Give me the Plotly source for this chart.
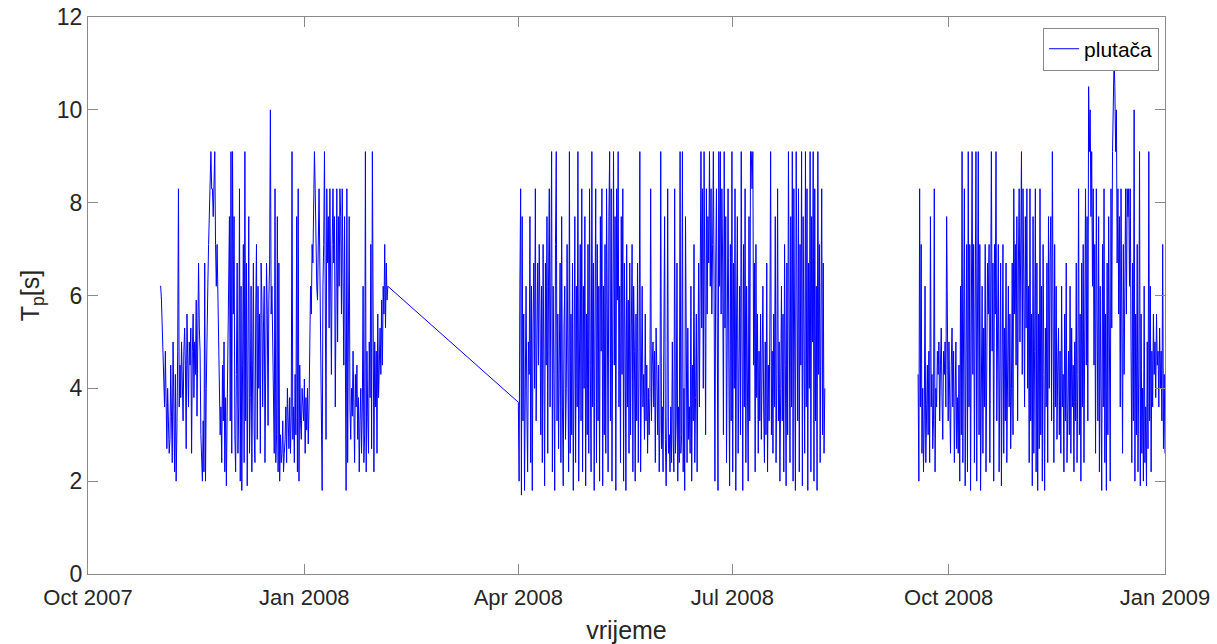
import numpy as np
import pandas as pd
import plotly.graph_objects as go

# ---- data (Tp in seconds) ----
seg1_start, seg1_end = "2007-10-31 14:00", "2008-02-05 12:00"
seg1_tp = [
    6.2, 6.2, 5.9, 5.3, 4.8, 4.5, 3.6, 4.8, 3.2, 2.7, 4.0, 3.3, 2.6,
    2.9, 4.5, 3.4, 2.4, 5.0, 3.7, 2.2, 4.3, 2.0, 3.1, 4.8, 8.3, 3.6,
    4.5, 3.8, 5.0, 4.3, 3.3, 4.8, 5.3, 4.5, 2.7, 5.6, 4.8, 3.6, 5.0,
    4.5, 5.3, 2.6, 4.8, 5.6, 3.8, 5.0, 4.3, 5.9, 3.4, 5.6, 6.7, 5.3,
    4.8, 3.0, 2.4, 2.0, 3.3, 2.2, 6.7, 2.0, 4.0, 5.6, 6.2, 7.1, 7.7,
    8.3, 9.1, 8.3, 8.3, 7.7, 8.3, 9.1, 7.1, 6.2, 7.1, 5.9, 4.3, 3.6,
    3.0, 3.6, 2.4, 4.5, 3.3, 5.0, 2.2, 3.8, 1.9, 3.4, 4.8, 6.2, 7.7,
    3.3, 9.1, 2.6, 9.1, 5.6, 7.7, 3.0, 2.2, 4.3, 6.7, 2.6, 3.6, 8.3,
    2.0, 6.2, 1.8, 4.5, 7.1, 2.4, 9.1, 3.3, 6.7, 1.9, 5.3, 7.7, 2.6,
    3.8, 6.2, 2.2, 4.5, 6.7, 3.1, 2.4, 5.6, 7.1, 2.9, 6.2, 4.0, 5.6,
    2.6, 6.7, 5.9, 3.6, 5.3, 6.2, 2.4, 4.8, 6.7, 5.6, 3.2, 5.9, 6.7,
    10.0, 5.6, 6.2, 4.8, 3.3, 2.6, 8.3, 2.4, 3.0, 7.7, 2.2, 6.7, 2.0,
    3.0, 2.4, 2.6, 3.3, 2.2, 2.6, 2.9, 3.6, 2.4, 4.0, 3.3, 2.7, 3.8,
    2.6, 3.4, 9.1, 2.9, 3.6, 2.4, 4.3, 3.0, 7.7, 2.2, 8.3, 2.0, 4.5,
    3.3, 2.9, 4.0, 3.6, 3.3, 4.2, 2.6, 3.8, 3.1, 4.0, 2.8, 3.6, 5.0,
    6.2, 5.6, 7.1, 6.7, 7.7, 9.1, 8.3, 7.1, 6.2, 5.9, 7.7, 8.3, 6.7,
    5.0, 2.6, 1.8, 6.2, 7.1, 9.1, 4.5, 2.9, 8.3, 6.7, 7.7, 5.3, 8.3,
    6.2, 4.3, 7.1, 8.3, 6.7, 7.7, 3.6, 7.1, 8.3, 5.0, 7.7, 6.2, 8.3,
    7.7, 5.6, 8.3, 6.2, 4.5, 7.7, 3.3, 1.8, 8.3, 2.4, 5.3, 7.7, 3.6,
    2.9, 4.0, 3.4, 4.8, 3.0, 2.4, 4.3, 3.6, 4.5, 2.9, 3.8, 2.2, 3.3,
    4.0, 2.6, 3.6, 6.2, 2.4, 3.0, 9.1, 2.2, 4.8, 3.4, 2.6, 5.0, 3.8,
    7.1, 2.7, 9.1, 4.3, 2.2, 5.0, 3.6, 4.8, 2.6, 5.6, 3.8, 4.5, 5.3,
    4.3, 5.9, 4.5, 6.2, 5.6, 7.1, 5.3, 6.7, 5.9, 6.2,
]

seg2_start, seg2_end = "2008-04-01 00:00", "2008-08-09 08:00"
seg2_tp = [
    3.7, 2.0, 6.2, 8.3, 1.7, 7.7, 3.3, 5.6, 1.8, 4.8, 6.2, 3.6, 2.2, 5.0,
    4.3, 7.7, 2.4, 6.2, 1.8, 5.3, 6.7, 4.0, 8.3, 3.3, 5.9, 6.7, 4.5,
    7.1, 5.6, 3.0, 6.2, 2.4, 7.1, 5.3, 1.9, 6.7, 4.5, 7.7, 2.6, 6.2,
    8.3, 3.6, 5.9, 9.1, 2.2, 6.2, 4.3, 1.8, 7.1, 9.1, 3.3, 5.6, 2.7,
    4.8, 6.7, 2.4, 7.7, 3.6, 1.9, 5.3, 6.2, 2.9, 4.0, 7.1, 3.3, 2.2,
    9.1, 2.6, 5.6, 3.0, 6.7, 1.8, 4.5, 7.7, 2.4, 6.2, 3.6, 9.1, 2.0,
    5.0, 7.1, 3.3, 8.3, 2.2, 6.2, 4.0, 7.7, 1.9, 5.6, 3.0, 7.1, 2.6,
    8.3, 4.5, 2.2, 9.1, 3.6, 6.7, 1.8, 5.3, 8.3, 2.4, 7.1, 3.3, 6.2,
    2.0, 7.7, 4.8, 8.3, 1.9, 6.2, 3.0, 7.1, 2.6, 8.3, 5.6, 2.2, 7.7,
    9.1, 3.3, 8.3, 2.0, 6.7, 9.1, 4.5, 7.7, 1.8, 8.3, 5.9, 9.1, 3.6,
    6.2, 2.4, 7.7, 4.3, 8.3, 2.0, 6.7, 5.0, 1.8, 7.1, 3.6, 5.9, 2.6,
    6.7, 3.0, 5.3, 7.1, 2.2, 6.2, 4.8, 2.0, 5.6, 3.3, 6.7, 2.4, 4.5,
    9.1, 2.2, 5.0, 6.2, 3.6, 4.3, 2.9, 5.6, 3.3, 4.5, 2.6, 4.0, 3.0,
    3.8, 8.3, 3.3, 4.5, 5.0, 3.6, 4.8, 2.4, 5.3, 4.3, 3.0, 4.5, 2.2,
    3.3, 9.1, 2.7, 3.6, 2.2, 4.3, 7.7, 2.9, 1.9, 3.4, 8.3, 2.6, 3.0,
    2.2, 3.6, 2.4, 5.0, 3.0, 2.2, 8.3, 2.6, 3.3, 6.7, 2.0, 3.6, 2.4,
    9.1, 2.6, 3.0, 9.1, 2.2, 4.0, 1.8, 7.7, 3.3, 2.4, 5.3, 2.9, 3.6,
    2.6, 6.2, 2.0, 4.5, 3.3, 7.1, 2.4, 3.8, 5.6, 2.2, 4.3, 6.7, 3.6,
    7.1, 9.1, 5.3, 8.3, 4.0, 9.1, 6.2, 3.0, 8.3, 5.6, 7.7, 6.7, 9.1,
    6.2, 8.3, 5.6, 7.1, 9.1, 5.9, 2.0, 6.7, 8.3, 5.3, 1.8, 9.1, 6.2,
    9.1, 5.6, 8.3, 6.7, 3.0, 9.1, 5.3, 7.7, 2.4, 6.2, 8.3, 4.5, 1.9,
    7.1, 3.3, 9.1, 2.2, 6.7, 4.0, 8.3, 1.8, 5.6, 7.7, 2.6, 4.5, 6.2,
    3.0, 9.1, 5.0, 1.8, 7.1, 3.6, 8.3, 2.4, 6.2, 4.3, 2.0, 7.7, 3.3,
    9.1, 9.1, 8.3, 9.1, 4.5, 6.7, 2.2, 7.1, 3.8, 5.6, 2.6, 4.8, 3.3,
    5.6, 2.9, 4.3, 6.2, 3.6, 2.4, 5.0, 3.0, 6.7, 2.2, 4.5, 3.3, 5.3,
    9.1, 3.0, 4.8, 2.6, 5.6, 3.6, 7.7, 2.4, 4.3, 8.3, 3.3, 5.0, 2.0,
    4.0, 6.2, 3.3, 5.6, 2.2, 7.1, 4.5, 1.9, 6.7, 3.0, 9.1, 4.8, 2.4,
    7.7, 3.6, 9.1, 2.0, 8.3, 5.3, 1.8, 9.1, 6.2, 3.3, 8.3, 2.2, 7.1,
    4.5, 9.1, 1.9, 7.7, 5.6, 2.6, 9.1, 3.6, 8.3, 1.8, 6.7, 4.0, 9.1,
    2.2, 7.7, 5.0, 9.1, 2.0, 8.3, 3.3, 6.2, 1.8, 9.1, 4.3, 7.1, 2.4,
    5.6, 8.3, 3.0, 6.7, 2.6, 4.0,
]

seg3_start, seg3_end = "2008-09-18 00:00", "2009-01-01 00:00"
seg3_tp = [
    4.3, 2.0, 8.3, 3.6, 7.1, 2.6, 4.0, 2.2, 3.3, 6.2, 2.4, 3.8, 4.5,
    3.0, 4.8, 2.4, 7.7, 3.6, 4.3, 2.7, 3.3, 8.3, 2.2, 4.0, 3.6, 4.8,
    4.3, 5.0, 3.3, 4.5, 5.3, 3.8, 2.9, 4.8, 4.3, 5.0, 3.6, 7.7, 4.5,
    3.3, 5.0, 4.0, 2.6, 4.5, 5.3, 3.6, 4.8, 2.4, 4.3, 5.0, 2.7, 3.8,
    2.6, 4.5, 2.0, 6.2, 3.0, 9.1, 2.4, 5.6, 8.3, 1.9, 4.8, 7.1, 2.2,
    9.1, 3.6, 7.1, 1.8, 6.2, 9.1, 4.3, 7.1, 2.4, 5.6, 9.1, 2.0, 6.7,
    9.1, 3.0, 7.1, 1.8, 4.8, 6.2, 2.6, 5.3, 3.6, 7.1, 2.2, 4.5, 6.7,
    5.6, 7.1, 2.4, 6.2, 9.1, 4.8, 6.7, 2.0, 7.1, 5.6, 9.1, 3.3, 6.2,
    7.1, 2.2, 5.9, 6.7, 1.9, 4.5, 7.1, 2.6, 5.3, 3.3, 6.7, 2.4, 4.3,
    6.2, 3.6, 5.6, 2.7, 4.0, 6.7, 3.0, 8.3, 5.6, 7.1, 4.5, 7.7, 3.3,
    6.7, 8.3, 5.0, 7.1, 9.1, 4.3, 8.3, 6.2, 3.6, 7.7, 5.3, 8.3, 4.0,
    6.2, 2.4, 8.3, 3.3, 5.6, 1.9, 7.7, 2.6, 4.8, 8.3, 2.2, 6.7, 1.8,
    5.6, 2.7, 8.3, 3.0, 6.2, 2.0, 7.1, 4.3, 1.8, 5.3, 3.6, 6.7, 2.4,
    7.7, 4.0, 6.7, 7.7, 3.3, 9.1, 5.6, 2.4, 7.1, 3.6, 6.2, 2.9, 4.5,
    5.3, 3.0, 4.8, 2.6, 6.2, 3.6, 4.3, 2.2, 5.6, 3.3, 6.7, 2.4, 4.0,
    4.8, 3.0, 6.2, 2.6, 5.3, 3.6, 4.5, 2.2, 5.0, 3.3, 6.7, 2.4, 4.3,
    8.3, 3.0, 5.6, 2.0, 6.7, 3.6, 7.1, 2.4, 5.3, 8.3, 4.5, 7.7, 3.3,
    10.5, 9.1, 10.0, 7.7, 9.1, 6.2, 8.3, 4.5, 7.1, 2.6, 8.3, 5.6, 3.3,
    7.7, 2.2, 6.2, 4.3, 1.8, 7.1, 3.6, 8.3, 2.4, 5.6, 1.8, 6.7, 3.0,
    7.7, 4.5, 2.0, 8.3, 5.3, 9.1, 10.0, 11.1, 10.5, 9.1, 10.0, 6.7, 8.3,
    5.6, 7.7, 3.6, 8.3, 5.0, 2.6, 7.1, 4.3, 6.2, 8.3, 5.6, 8.3, 7.7,
    8.3, 6.2, 8.3, 4.8, 2.4, 6.7, 3.3, 10.0, 2.0, 5.6, 3.0, 7.1, 2.2,
    4.5, 9.1, 1.9, 5.6, 2.6, 4.0, 2.0, 6.2, 2.4, 3.6, 1.9, 5.0, 2.7,
    9.1, 3.3, 6.2, 2.2, 4.8, 3.6, 5.6, 4.3, 5.0, 3.8, 5.6, 4.5, 4.8,
    3.6, 5.3, 4.0, 4.8, 3.3, 7.1, 2.7, 4.3, 2.6,
]

x_tick_vals = ["2007-10-01", "2008-01-01", "2008-04-01", "2008-07-01", "2008-10-01", "2009-01-01"]
x_tick_text = ["Oct 2007", "Jan 2008", "Apr 2008", "Jul 2008", "Oct 2008", "Jan 2009"]
y_tick_vals = [0, 2, 4, 6, 8, 10, 12]

# ---- build series (gap after segment 2 is a break; gap after segment 1 is joined) ----
t1 = pd.date_range(seg1_start, seg1_end, periods=len(seg1_tp))
t2 = pd.date_range(seg2_start, seg2_end, periods=len(seg2_tp))
t3 = pd.date_range(seg3_start, seg3_end, periods=len(seg3_tp))

x = list(t1) + list(t2) + [t2[-1] + pd.Timedelta(hours=1)] + list(t3)
y = list(seg1_tp) + list(seg2_tp) + [None] + list(seg3_tp)

fig = go.Figure()
fig.add_trace(go.Scatter(
    x=x, y=y, mode="lines", name="plutača",
    line=dict(color="#0000ff", width=1),
    connectgaps=False,
))

font_family = "Liberation Sans, Arial, sans-serif"
axis_color = "#8a8a8a"
text_color = "#262626"

fig.update_layout(
    width=1217, height=644,
    margin=dict(l=88, r=52, t=17, b=70),
    paper_bgcolor="white", plot_bgcolor="white",
    font=dict(family=font_family, size=22, color=text_color),
    showlegend=True,
    legend=dict(
        x=0.9945, y=0.981, xanchor="right", yanchor="top",
        bgcolor="white", bordercolor=axis_color, borderwidth=1,
        font=dict(size=21, color="#000000"),
        itemwidth=30, tracegroupgap=0,
    ),
    xaxis=dict(
        range=["2007-10-01", "2009-01-01"],
        automargin=False,
        tickvals=x_tick_vals, ticktext=x_tick_text,
        ticks="inside", ticklen=10, tickcolor=axis_color, tickwidth=1,
        showline=True, linecolor=axis_color, linewidth=1, mirror="ticks",
        showgrid=False, zeroline=False,
        tickfont=dict(size=22, color=text_color),
        ticklabelstandoff=4,
        title=dict(text="vrijeme", font=dict(size=25, color=text_color), standoff=13),
    ),
    yaxis=dict(
        range=[0, 12],
        automargin=False,
        tickvals=y_tick_vals,
        ticks="inside", ticklen=10, tickcolor=axis_color, tickwidth=1,
        showline=True, linecolor=axis_color, linewidth=1, mirror="ticks",
        showgrid=False, zeroline=False,
        tickfont=dict(size=23, color=text_color),
        title=dict(text="T<sub>p</sub>[s]", font=dict(size=25, color=text_color), standoff=10),
    ),
)

fig.write_html("out.html")
